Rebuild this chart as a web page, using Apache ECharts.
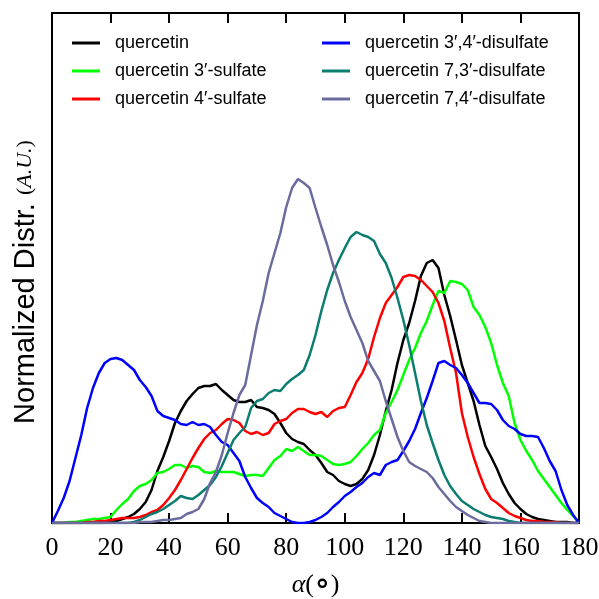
<!DOCTYPE html>
<html>
<head>
<meta charset="utf-8">
<script src="https://cdn.jsdelivr.net/npm/echarts@6/dist/echarts.min.js"></script>
<style>
  html, body {margin: 0; padding: 0; background: #fff;}
  #chart {width: 599px; height: 599px;}
</style>
</head>
<body>
<div id="chart"></div>
<script>
// angle samples, every 2 degrees
const angles = [];
for (let a = 0; a <= 180; a += 2) angles.push(a);

const names = [
  "quercetin",
  "quercetin 3\u2032-sulfate",
  "quercetin 4\u2032-sulfate",
  "quercetin 3\u2032,4\u2032-disulfate",
  "quercetin 7,3\u2032-disulfate",
  "quercetin 7,4\u2032-disulfate",
];
const colors = ["#000000", "#00ff00", "#ff0000", "#0000ff", "#0b7d70", "#6b6b9e"];

// arbitrary units
const quercetin = [
  0, 0, 0, 0, 0, 0, 0, 0, 0, 0,
  1, 2, 4, 6, 9, 14, 21, 33, 52, 66,
  82, 100, 112, 122, 129, 135, 137, 137, 139, 133,
  128, 123, 121, 121, 123, 116, 115, 113, 109, 100,
  90, 84, 81, 79, 73, 68, 60, 51, 48, 42,
  39, 37, 39, 44, 53, 68, 88, 112, 133, 160,
  183, 200, 222, 247, 260, 263, 255, 228, 207, 183,
  158, 140, 122, 98, 77, 66, 54, 40, 29, 20,
  14, 9, 6, 4, 3, 2, 1, 1, 1, 0, 0,
];
const sulf3 = [
  0, 0, 0, 1, 1, 2, 3, 4, 4, 5,
  6, 13, 19, 24, 32, 37, 39, 43, 50, 51,
  54, 58, 58, 55, 57, 56, 51, 50, 52, 51,
  51, 51, 49, 47, 48, 48, 47, 55, 63, 67,
  74, 72, 76, 72, 68, 68, 67, 63, 59, 58,
  59, 61, 67, 74, 80, 88, 93, 110, 121, 133,
  148, 163, 175, 190, 202, 218, 232, 230, 242, 241,
  239, 233, 216, 208, 196, 180, 158, 140, 127, 100,
  83, 72, 63, 52, 44, 36, 28, 20, 13, 7, 0,
];
const sulf4 = [
  0, 0, 0, 0, 0, 0, 1, 1, 2, 2,
  3, 4, 5, 5, 5, 6, 8, 11, 13, 18,
  25, 33, 43, 54, 65, 75, 84, 90, 93, 99,
  104, 103, 100, 92, 89, 91, 88, 90, 99, 102,
  104, 110, 114, 114, 111, 109, 111, 106, 112, 115,
  116, 128, 141, 150, 164, 186, 205, 220, 228, 236,
  246, 248, 247, 243, 237, 231, 220, 202, 175, 150,
  110, 86, 66, 49, 34, 24, 20, 15, 10, 7,
  5, 3, 2, 2, 1, 1, 1, 0, 0, 0, 0,
];
const disulf34 = [
  0, 12, 25, 42, 65, 88, 115, 135, 150, 160,
  164, 165, 163, 158, 153, 143, 136, 127, 112, 107,
  105, 103, 99, 98, 101, 98, 99, 96, 88, 81,
  78, 70, 62, 46, 35, 25, 20, 16, 10, 7,
  4, 1, 0, 0, 1, 3, 6, 10, 16, 21,
  27, 31, 36, 40, 46, 50, 48, 58, 61, 63,
  72, 82, 94, 110, 125, 142, 160, 162, 158, 155,
  148, 140, 130, 120, 120, 119, 113, 103, 97, 94,
  89, 87, 87, 86, 75, 62, 52, 33, 18, 8, 0,
];
const disulf73 = [
  0, 0, 0, 0, 0, 0, 0, 0, 0, 0,
  0, 0, 0, 0, 1, 3, 6, 9, 11, 14,
  18, 22, 27, 25, 24, 28, 33, 38, 46, 57,
  70, 83, 90, 96, 115, 122, 124, 130, 133, 132,
  139, 144, 148, 153, 168, 188, 212, 233, 250, 263,
  275, 286, 291, 288, 286, 282, 269, 260, 245, 225,
  203, 178, 150, 122, 98, 80, 63, 48, 37, 29,
  22, 18, 14, 11, 8, 6, 5, 4, 2, 1,
  0, 0, 0, 0, 0, 0, 0, 0, 0, 0, 0,
];
const disulf74 = [
  0, 0, 0, 0, 0, 0, 0, 0, 0, 0,
  0, 0, 0, 0, 0, 1, 1, 1, 2, 3,
  3, 4, 5, 9, 11, 14, 24, 40, 51, 68,
  90, 110, 128, 138, 168, 198, 222, 250, 270, 290,
  316, 335, 344, 340, 335, 315, 296, 278, 258, 241,
  222, 206, 193, 180, 162, 152, 142, 122, 104, 86,
  72, 61, 57, 54, 51, 45, 36, 29, 22, 16,
  12, 8, 5, 2, 1, 0, 0, 0, 0, 0,
  0, 0, 0, 0, 0, 0, 0, 0, 0, 0, 0,
];
const seriesValues = [quercetin, sulf3, sulf4, disulf34, disulf73, disulf74];

const xTicks = [0, 20, 40, 60, 80, 100, 120, 140, 160, 180];

const chart = echarts.init(document.getElementById("chart"), null, {renderer: "canvas"});

const serifFont = "'Liberation Serif', 'DejaVu Serif', serif";
const sansFont = "'Liberation Sans', Arial, sans-serif";

const series = seriesValues.map((vals, i) => ({
  name: names[i],
  type: "line",
  xAxisIndex: 0,
  yAxisIndex: 0,
  data: vals.map((v, k) => [angles[k], v]),
  showSymbol: false,
  symbol: "none",
  lineStyle: {color: colors[i], width: 2.5},
  itemStyle: {color: colors[i]},
}));

function legendFor(idx, left) {
  return {
    left: left,
    top: 29,
    orient: "vertical",
    icon: "rect",
    itemWidth: 28,
    itemHeight: 3,
    itemGap: 10,
    data: idx.map((i) => names[i]),
    textStyle: {
      fontFamily: sansFont,
      fontSize: 18,
      color: "#000",
      lineHeight: 18,
      padding: [0, 0, 0, 10],
    },
    selectedMode: false,
  };
}

function xAxisAt(pos) {
  return {
    type: "value",
    gridIndex: 0,
    min: 0, max: 180, interval: 20,
    position: pos,
    axisLine: {show: true, onZero: false, lineStyle: {color: "#000", width: 2}},
    axisTick: {show: true, inside: true, length: 10, lineStyle: {color: "#000", width: 2}},
    splitLine: {show: false},
  };
}

// thin strips along the top and bottom edges; their split lines act as inward ticks
function tickStripX(gridIndex) {
  return {
    type: "value",
    gridIndex: gridIndex,
    min: 0, max: 180, interval: 20,
    axisLine: {show: false},
    axisTick: {show: false},
    axisLabel: {show: false},
    splitLine: {show: true, lineStyle: {color: "#000", width: 1.5}},
  };
}
function tickStripY(gridIndex) {
  return {
    type: "value",
    gridIndex: gridIndex,
    min: 0, max: 1,
    axisLine: {show: false},
    axisTick: {show: false},
    axisLabel: {show: false},
    splitLine: {show: false},
  };
}

const bottomAxis = {
  ...xAxisAt("bottom"),
  axisLabel: {
    color: "#000", fontFamily: serifFont, fontSize: 26, margin: 12,
    formatter: (v) => (xTicks.includes(v) ? String(v) : ""),
  },
  name: "{i|\u03b1}{p|(}{r|\u2218}{p|)}",
  nameLocation: "middle",
  nameGap: 45,
  nameTextStyle: {
    rich: {
      i: {fontFamily: serifFont, fontStyle: "italic", fontSize: 26, color: "#000"},
      p: {fontFamily: serifFont, fontSize: 26, color: "#000"},
      r: {fontFamily: "'DejaVu Serif', serif", fontSize: 34, color: "#000"},
    },
  },
};
const topAxis = {...xAxisAt("top"), axisLabel: {show: false}};

function yAxisAt(pos) {
  return {
    type: "value",
    gridIndex: 0,
    min: 0, max: 510,
    position: pos,
    axisLine: {show: true, onZero: false, lineStyle: {color: "#000", width: 2}},
    axisTick: {show: false},
    axisLabel: {show: false},
    splitLine: {show: false},
  };
}

const leftAxis = {
  ...yAxisAt("left"),
  name: "{s|Normalized Distr. }{p|(}{i|A.U.}{p|)}",
  nameLocation: "middle",
  nameRotate: 90,
  nameGap: 12,
  nameTextStyle: {
    padding: [0, 28, 0, 0],
    rich: {
      s: {fontFamily: sansFont, fontSize: 29, color: "#000"},
      p: {fontFamily: serifFont, fontSize: 22, color: "#000"},
      i: {fontFamily: serifFont, fontStyle: "italic", fontSize: 22, color: "#000"},
    },
  },
};

const option = {
  animation: false,
  grid: [
    {left: 52, right: 20, top: 13, bottom: 76, outerBoundsMode: "none"},
    {left: 52, right: 20, top: 513, height: 10, outerBoundsMode: "none"},
    {left: 52, right: 20, top: 13, height: 10, outerBoundsMode: "none"},
  ],
  legend: [legendFor([0, 1, 2], 67), legendFor([3, 4, 5], 317)],
  xAxis: [bottomAxis, topAxis, tickStripX(1), tickStripX(2)],
  yAxis: [leftAxis, yAxisAt("right"), tickStripY(1), tickStripY(2)],
  series: series,
};

chart.setOption(option);
</script>
</body>
</html>
